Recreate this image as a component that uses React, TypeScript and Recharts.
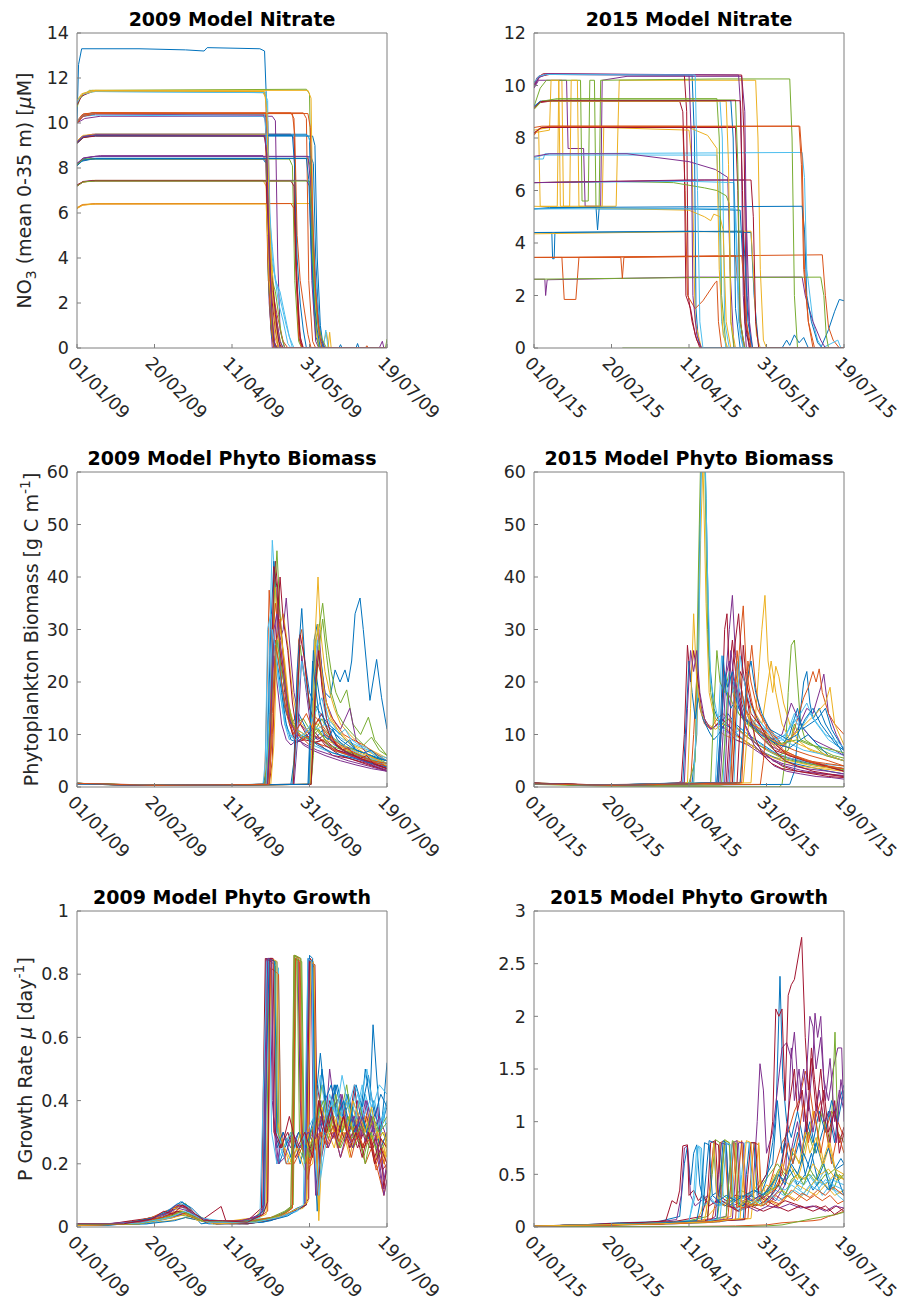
import React from "react";
import { LineChart, Line, XAxis, YAxis } from "recharts";

type Pt = [number, number];

// day-of-year axis shared by every panel
const DAY_TICKS = [0, 50, 100, 150, 200];
const DATES_2009 = ["01/01/09", "20/02/09", "11/04/09", "31/05/09", "19/07/09"];
const DATES_2015 = ["01/01/15", "20/02/15", "11/04/15", "31/05/15", "19/07/15"];

const NITRATE_TICKS_2009 = [0, 2, 4, 6, 8, 10, 12, 14];
const NITRATE_TICKS_2015 = [0, 2, 4, 6, 8, 10, 12];
const BIOMASS_TICKS = [0, 10, 20, 30, 40, 50, 60];
const GROWTH_TICKS_2009 = [0, 0.2, 0.4, 0.6, 0.8, 1];
const GROWTH_TICKS_2015 = [0, 0.5, 1, 1.5, 2, 2.5, 3];

// NO3 (mean 0-35 m), one trace per run
const NITRATE_2009: Pt[][] = [
  [[0, 10.1], [1, 12.6], [3, 13.3], [40, 13.3], [70, 13.25], [82, 13.2], [84, 13.35], [118, 13.3], [121, 13.2], [122, 11.4], [123, 6], [125, 1.5], [127, 0.2], [130, 0], [169, 0], [170, 0.15], [171, 0], [180, 0], [181, 0.2], [182, 0], [200, 0]],
  [[0, 10.1], [4, 10.4], [10, 10.45], [138, 10.45], [140, 10.2], [141.5, 4], [143, 1], [145, 0], [200, 0]],
  [[0, 6.25], [4, 6.38], [12, 6.42], [150, 6.42], [151.5, 6.1], [153, 3], [156, 0.5], [158, 0], [161, 0.7], [162.5, 0], [200, 0]],
  [[0, 10.0], [5, 10.2], [15, 10.3], [126, 10.3], [128, 10.1], [129.5, 4], [131, 0.8], [134, 0], [195, 0], [197, 0.3], [198, 0], [200, 0]],
  [[0, 10.7], [2, 11.1], [8, 11.45], [148, 11.5], [150, 11.3], [151.5, 5], [153, 1.5], [156, 0], [199, 0], [200, 0.4]],
  [[0, 9.2], [4, 9.4], [12, 9.45], [121, 9.4], [123, 9.0], [125, 4], [130, 2.5], [135, 1], [139, 0], [159, 0], [160.5, 0.8], [162, 0], [200, 0]],
  [[0, 10.8], [3, 11.2], [10, 11.4], [120, 11.4], [122, 11.2], [123.5, 4], [125, 1], [127, 0], [200, 0]],
  [[0, 8.2], [4, 8.4], [10, 8.5], [151, 8.5], [152.5, 8.2], [154, 4], [156.5, 0.5], [159, 0], [200, 0]],
  [[0, 10.0], [3, 10.35], [10, 10.45], [146, 10.45], [148, 10.2], [149.5, 3], [152, 0.3], [154, 0], [186, 0], [187, 0.1], [188, 0], [200, 0]],
  [[0, 11.0], [4, 11.3], [12, 11.45], [120, 11.35], [122, 11.1], [124, 3], [127, 0.3], [129, 0], [162, 0], [163, 0.7], [164, 0], [200, 0]],
  [[0, 8.2], [5, 8.45], [15, 8.55], [120, 8.55], [122, 8.3], [124, 2], [126, 0], [200, 0]],
  [[0, 8.1], [3, 8.35], [10, 8.4], [137, 8.4], [139, 8.1], [140.5, 3], [143, 0.3], [145, 0], [200, 0]],
  [[0, 10.9], [3, 11.25], [10, 11.4], [121, 11.35], [123, 11.0], [124, 5], [126, 2], [130, 0.5], [133, 0], [200, 0]],
  [[0, 9.2], [3, 9.4], [10, 9.5], [138, 9.5], [140, 9.3], [141.5, 3.5], [144, 0.5], [146, 0], [200, 0]],
  [[0, 9.1], [5, 9.4], [12, 9.5], [148, 9.5], [150, 9.3], [151.5, 4], [154, 0.5], [157, 0], [200, 0]],
  [[0, 6.2], [3, 6.35], [10, 6.4], [138, 6.42], [140, 6.2], [141.5, 3], [143, 0.5], [145, 0], [200, 0]],
  [[0, 7.2], [3, 7.35], [10, 7.45], [120, 7.45], [122, 7.2], [123.5, 3], [126, 0.5], [128, 0], [200, 0]],
  [[0, 7.2], [4, 7.4], [12, 7.45], [148, 7.45], [150, 7.2], [151.5, 3], [154, 0.3], [156, 0], [200, 0]],
  [[0, 9.1], [4, 9.35], [12, 9.45], [120, 9.45], [122, 9.2], [123.5, 3], [126, 0.5], [128, 0], [200, 0]],
  [[0, 10.1], [4, 10.3], [12, 10.35], [120, 10.3], [122, 10.1], [124, 5], [128, 1.5], [131, 0], [200, 0]],
  [[0, 7.25], [4, 7.4], [10, 7.42], [138, 7.42], [140, 7.2], [141.5, 3], [144, 0.3], [146, 0], [200, 0]],
  [[0, 8.1], [3, 8.3], [10, 8.4], [120, 8.4], [122, 8.2], [123.5, 3], [125.5, 0.5], [128, 0], [200, 0]],
  [[0, 10.0], [3, 10.3], [10, 10.45], [120, 10.4], [121.5, 10.2], [123, 4], [125, 1], [127, 0], [200, 0]],
  [[0, 9.2], [4, 9.45], [12, 9.5], [121, 9.5], [123, 9.2], [124, 6], [126, 3.5], [128, 1.5], [132, 0], [200, 0]],
  [[0, 8.1], [3, 8.35], [12, 8.42], [121, 8.4], [123, 8.1], [125, 3], [128, 1.2], [131, 0], [200, 0]],
  [[0, 8.15], [4, 8.38], [12, 8.42], [149, 8.42], [150.5, 8.1], [152, 4], [154, 1], [156, 0], [200, 0]],
  [[0, 9.15], [4, 9.4], [12, 9.45], [149, 9.45], [151, 9.0], [152.5, 5], [155, 2], [158, 0.3], [160, 0], [200, 0]],
  [[0, 10.05], [4, 10.35], [12, 10.42], [121, 10.4], [123, 10.1], [124.5, 3], [127, 0.3], [129, 0], [200, 0]],
  [[0, 9.1], [4, 9.38], [12, 9.42], [152, 9.42], [153.5, 9], [155, 4], [157, 1], [159, 0], [200, 0]],
  [[0, 10.05], [4, 10.4], [12, 10.45], [122, 10.4], [123.5, 9], [125, 3], [129, 1.5], [133, 0.3], [136, 0], [200, 0]],
  [[0, 11.0], [3, 11.3], [10, 11.45], [149, 11.45], [151, 11.1], [152.5, 4], [155, 0.5], [157, 0], [200, 0]],
  [[0, 10.0], [4, 10.3], [12, 10.4], [121, 10.35], [122.5, 9.5], [123.5, 5], [125, 3], [127, 2.2], [129, 1.2], [131, 0.3], [133, 0], [200, 0]],
  [[0, 8.15], [4, 8.38], [12, 8.42], [122, 8.4], [123, 7], [124, 4], [126, 3], [128, 2.5], [130, 1.5], [132, 0.5], [134, 0], [200, 0]],
  [[0, 11.0], [4, 11.3], [12, 11.4], [122, 11.35], [123, 10], [124.5, 6], [126, 4], [128, 3], [131, 2.5], [134, 1.5], [137, 0.5], [140, 0], [200, 0]],
  [[0, 7.2], [4, 7.38], [12, 7.44], [122, 7.44], [123, 6], [124, 4], [126, 3], [128, 1.5], [130, 0.3], [132, 0], [200, 0]],
  [[0, 9.15], [4, 9.38], [12, 9.44], [139, 9.44], [140.5, 8], [142, 4], [144, 2], [146, 0.8], [148, 0], [200, 0]],
  [[0, 10.0], [4, 10.3], [12, 10.42], [139, 10.42], [140.5, 9.5], [142, 5], [144, 3], [146, 2], [149, 0.6], [151, 0], [200, 0]],
  [[0, 6.2], [4, 6.35], [12, 6.4], [122, 6.4], [123, 5], [124, 3], [126, 1.5], [128, 0.4], [130, 0], [200, 0]],
  [[0, 8.2], [4, 8.45], [12, 8.52], [149, 8.52], [150.5, 7.5], [152, 5], [154, 2.5], [156, 1], [158, 0.3], [160, 0], [200, 0]],
  [[0, 7.2], [4, 7.38], [12, 7.42], [150, 7.42], [151.5, 6], [153, 3], [155, 1.2], [158, 0.4], [161, 0], [200, 0]],
  [[0, 10.05], [4, 10.35], [12, 10.42], [121, 10.4], [122.5, 9], [124, 6], [126, 4.5], [128, 3], [130, 2], [133, 1.2], [136, 0.2], [138, 0], [200, 0]],
  [[0, 9.1], [4, 9.35], [12, 9.42], [121, 9.42], [122.5, 8.5], [124, 5], [126, 2], [128, 0.8], [130, 0], [200, 0]],
  [[0, 8.1], [4, 8.35], [12, 8.42], [148, 8.42], [149.5, 7.5], [151, 4.5], [153, 2], [155, 0.8], [157, 0], [200, 0]],
  [[0, 10.0], [4, 10.35], [12, 10.42], [149, 10.42], [150.5, 9.8], [152, 6], [154, 2.5], [156, 0.8], [158, 0], [200, 0]],
  [[0, 11.0], [4, 11.3], [12, 11.42], [121, 11.4], [122.5, 10.5], [124, 6], [126, 2.5], [128, 1], [130, 0], [200, 0]],
  [[0, 9.15], [4, 9.4], [12, 9.48], [121, 9.45], [122.5, 8.6], [124, 4], [126, 1.2], [128, 0], [200, 0]],
];

const NITRATE_2015: Pt[][] = [
  [[0, 10.1], [3, 10.35], [8, 10.42], [102, 10.4], [103.5, 8], [104.5, 1.5], [106, 0.3], [108, 0], [160, 0], [163, 0.3], [165, 0.1], [168, 0.5], [171, 0.2], [174, 0.4], [177, 0], [185, 0], [190, 0.7], [194, 1.4], [197, 1.85], [200, 1.8]],
  [[0, 3.45], [18, 3.45], [19.5, 1.85], [27, 1.85], [29, 3.45], [100, 3.5], [186, 3.55], [188, 2], [190, 0.8], [193, 0.3], [197, 0], [200, 0]],
  [[0, 8.2], [3, 8.3], [4, 5.4], [15, 5.4], [16, 10.2], [18, 10.2], [19, 5.4], [53, 5.4], [54, 8.0], [55, 10.2], [143, 10.2], [144.5, 8], [146, 3], [148, 0.3], [150, 0], [200, 0]],
  [[0, 9.9], [3, 10.2], [21, 10.2], [22, 7.6], [32, 7.6], [33, 5.4], [43, 5.4], [44, 10.2], [60, 10.35], [134, 10.35], [136, 9], [137.5, 2], [140, 0], [200, 0]],
  [[0, 9.2], [4, 9.9], [8, 10.2], [30, 10.2], [31, 5.6], [35, 5.6], [36, 10.2], [39, 10.2], [40, 5.3], [42, 5.3], [43, 10.2], [120, 10.25], [165, 10.25], [166.5, 8], [168, 2], [170, 0], [200, 0]],
  [[0, 7.2], [6, 7.2], [7, 7.4], [173, 7.45], [174.5, 6.5], [176, 3], [180, 1], [183, 0.3], [186, 0], [196, 0.3], [198, 0], [200, 0]],
  [[0, 10.0], [2, 10.3], [6, 10.45], [97, 10.4], [98.5, 9], [99.5, 2], [102, 1], [105, 0.3], [108, 0], [200, 0]],
  [[0, 5.3], [40, 5.35], [41, 4.5], [42, 5.3], [100, 5.3], [133, 5.25], [135, 3], [137, 0.5], [140, 0], [200, 0]],
  [[0, 8.1], [3, 8.35], [10, 8.42], [171, 8.45], [172.5, 7], [174, 3], [177, 1], [180, 0], [200, 0]],
  [[0, 8.2], [10, 8.3], [11, 10.2], [16, 10.2], [17, 5.4], [23, 5.4], [24, 10.2], [28, 10.2], [29, 5.4], [44, 5.4], [45, 8.4], [100, 8.3], [102, 7], [104, 1], [108, 0], [200, 0]],
  [[0, 2.62], [7, 2.62], [7.5, 2.0], [8.5, 2.6], [100, 2.7], [173, 2.7], [175, 2], [180, 1], [185, 0.3], [188, 0], [200, 0]],
  [[0, 2.62], [100, 2.68], [185, 2.7], [187, 2], [188.5, 0.5], [190, 0], [200, 0]],
  [[0, 9.2], [4, 9.4], [120, 9.42], [121.5, 8], [123, 1], [126, 0], [200, 0]],
  [[0, 10.0], [4, 10.35], [10, 10.42], [134, 10.4], [135.5, 8], [137, 1], [139, 0], [200, 0]],
  [[0, 4.4], [11.5, 4.4], [12, 3.4], [13, 3.4], [13.5, 4.4], [100, 4.45], [140, 4.4], [142, 2], [145, 0], [200, 0]],
  [[0, 8.4], [5, 8.45], [96, 8.45], [97.5, 6], [99, 2], [104, 1.5], [109, 1.8], [117, 2.5], [118, 2.55], [119, 1], [121, 0], [200, 0]],
  [[0, 5.4], [60, 5.3], [100, 5.25], [110, 5.0], [114, 4.85], [116, 5.1], [120, 5.0], [122, 4.5], [124, 1], [127, 0], [200, 0]],
  [[0, 9.9], [3, 10.3], [8, 10.45], [132, 10.4], [133.5, 9], [135, 2], [137, 0], [200, 0]],
  [[0, 9.1], [5, 9.4], [15, 9.5], [118, 9.5], [119.5, 8], [121, 2], [124, 0], [200, 0]],
  [[0, 7.25], [6, 7.35], [100, 7.35], [118, 7.35], [119.5, 5], [121, 1], [124, 0], [200, 0]],
  [[0, 9.1], [4, 9.35], [10, 9.4], [94, 9.4], [96, 9.0], [97, 7], [98, 2], [101, 1.5], [104, 0.5], [107, 0], [200, 0]],
  [[0, 5.3], [10, 5.35], [173, 5.4], [174.5, 4.5], [176, 2], [179, 1], [183, 0.2], [186, 0], [200, 0]],
  [[0, 3.45], [56, 3.45], [57, 2.65], [58, 3.45], [130, 3.5], [132, 2], [135, 0], [200, 0]],
  [[0, 4.35], [60, 4.4], [140, 4.45], [141.5, 3], [143.5, 0.5], [146, 0], [200, 0]],
  [[0, 7.3], [10, 7.4], [60, 7.4], [100, 7.1], [117, 6.8], [125, 6.5], [126.5, 3], [129, 0], [200, 0]],
  [[0, 6.3], [50, 6.35], [90, 6.3], [110, 6.1], [118, 6.0], [124, 5.8], [126, 5.5], [127, 1], [129, 0], [200, 0]],
  [[0, 6.3], [100, 6.35], [129, 6.3], [130.5, 4], [132, 1], [135, 0], [200, 0]],
  [[0, 6.3], [50, 6.35], [100, 6.4], [140, 6.4], [141.5, 5], [143, 1], [145, 0], [200, 0]],
  [[0, 9.2], [4, 9.4], [127, 9.42], [128.5, 8], [130, 1.5], [133, 0], [200, 0]],
  [[0, 8.15], [4, 8.38], [10, 8.45], [171.5, 8.45], [173, 7.2], [174.5, 3], [177, 1], [181, 0], [200, 0]],
  [[0, 8.3], [10, 8.4], [100, 8.4], [112, 8.1], [118, 7.6], [119.5, 3], [122, 0.5], [125, 0], [200, 0]],
  [[0, 6.3], [60, 6.35], [110, 6.4], [136, 6.4], [137.5, 4], [139, 1], [141, 0], [200, 0]],
  [[57, 0], [200, 0]],
  [[0, 5.3], [100, 5.3], [130, 5.3], [131.5, 3], [133, 0.5], [135, 0], [200, 0]],
  [[0, 8.2], [5, 8.4], [130, 8.4], [131.5, 6], [133, 1], [136, 0], [200, 0]],
  [[0, 4.4], [135, 4.45], [136.5, 3], [138, 1], [141, 0], [200, 0]],
  [[0, 3.45], [134, 3.5], [135.5, 2.5], [137, 1], [140, 0], [200, 0]],
  [[0, 9.1], [5, 9.4], [124, 9.4], [125.5, 7], [127, 1], [130, 0], [200, 0]],
  [[0, 10.0], [3, 10.3], [8, 10.42], [100, 10.4], [101.5, 8], [102.5, 2], [105, 0.5], [108, 0], [200, 0]],
  [[0, 9.1], [5, 9.4], [15, 9.45], [130, 9.45], [131.5, 7], [133, 1], [136, 0], [200, 0]],
  [[0, 10.1], [3, 10.35], [8, 10.42], [104, 10.4], [105.5, 6], [107, 1], [109, 0], [200, 0]],
  [[0, 9.15], [4, 9.38], [12, 9.42], [133, 9.42], [134.5, 6], [136, 1], [139, 0], [200, 0]],
];

// phytoplankton biomass [g C m-1]
const BIOMASS_2009: Pt[][] = [
  [[0, 0.6], [50, 0.3], [150, 0.5], [151.5, 10], [153, 28], [155, 31], [157, 25], [160, 18], [163.2, 17], [166.5, 22.3], [169.7, 20], [172.9, 22.3], [175, 20], [177.2, 24], [179.4, 33], [182.6, 36], [184.7, 30], [189, 16.5], [193.3, 24.3], [196.5, 17], [200, 11]],
  [[0, 0.6], [40, 0.3], [121, 0.5], [122, 12], [124, 37.5], [126, 25], [128, 28], [131, 22], [134, 15], [138, 12], [143, 10], [150, 9], [158, 8], [168, 7], [180, 5.5], [190, 4.5], [200, 3.5]],
  [[0, 0.6], [50, 0.3], [150, 0.5], [151.5, 6], [153, 25], [155.5, 40], [157, 30], [160, 22], [163, 18], [166, 15], [170, 12], [176, 10], [183, 8], [190, 7], [200, 5.5]],
  [[0, 0.6], [50, 0.3], [122, 0.5], [124, 5], [126, 22], [129, 34], [131, 28], [133, 30], [135, 36], [137, 28], [140, 18], [144, 12], [150, 10], [158, 9], [168, 7], [180, 6], [190, 5], [200, 3.8]],
  [[0, 0.7], [50, 0.3], [150.5, 0.5], [152, 8], [154, 28], [156, 30], [158.5, 35], [161, 28], [164, 22], [167, 18], [170, 16], [174, 18.5], [178, 12], [183, 10], [188, 13.3], [192, 9], [200, 6]],
  [[0, 0.7], [30, 0.3], [80, 0.4], [120, 0.5], [122, 2], [124, 25], [126, 47], [128, 38], [131, 22], [134, 12], [137, 9], [142, 11], [147, 10], [152, 8], [158, 9], [165, 7], [175, 6], [185, 5], [195, 4], [200, 3.5]],
  [[0, 0.7], [60, 0.3], [121.5, 0.5], [123.5, 8], [126, 30], [128, 43], [130, 36], [133, 25], [136, 16], [139, 10], [144, 12], [150, 9], [157, 8], [165, 6], [175, 5.5], [187, 4.5], [200, 3]],
  [[0, 0.6], [40, 0.3], [120, 0.5], [122.5, 3], [125, 30], [127, 43], [129, 35], [132, 20], [135, 14], [138, 12], [143, 14], [148, 11], [153, 9], [159, 11], [166, 8], [175, 6.5], [185, 5], [193, 5], [200, 4]],
  [[0, 0.6], [50, 0.3], [139, 0.5], [141, 10], [143, 28], [145, 30], [148, 20], [151, 14], [155, 13], [160, 11], [168, 8], [178, 6.5], [190, 5], [200, 4]],
  [[0, 0.6], [50, 0.3], [123, 0.5], [125, 10], [128, 38], [130, 30], [133, 33], [136, 27], [139, 18], [142, 13], [148, 11], [155, 12], [162, 10], [172, 8], [182, 6.5], [192, 5.5], [200, 5]],
  [[0, 0.6], [50, 0.3], [122, 0.5], [124, 6], [127, 25], [129, 20], [132, 12], [135, 9], [138, 8], [142, 9], [148, 8], [155, 7], [165, 6], [175, 5], [188, 4], [200, 3]],
  [[0, 0.7], [50, 0.3], [123, 0.5], [125, 8], [127, 35], [129, 45], [131, 33], [134, 22], [137, 14], [140, 12], [146, 13], [152, 10], [158, 13], [163, 10], [170, 8], [180, 7], [190, 6], [200, 4.5]],
  [[0, 0.7], [30, 0.35], [120, 0.5], [121.5, 5], [123, 30], [125, 33], [127, 27], [130, 20], [133, 14], [136, 11], [140, 9], [146, 10], [152, 8], [160, 7], [170, 6], [180, 5.5], [190, 5], [200, 4.2]],
  [[0, 0.6], [60, 0.3], [124, 0.5], [126, 5], [128, 25], [131, 40], [133, 32], [136, 26], [139, 16], [142, 10], [146, 9], [152, 11], [160, 8], [170, 6], [180, 5], [190, 4], [200, 3.2]],
  [[0, 0.6], [50, 0.3], [138, 0.5], [140, 5], [142, 22], [145, 34], [147, 24], [150, 18], [153, 16], [157, 14], [162, 12], [170, 10], [180, 7], [190, 6], [200, 5]],
  [[0, 0.6], [50, 0.3], [124, 0.5], [126, 10], [129, 28], [131, 32], [133, 25], [136, 17], [139, 12], [143, 10], [150, 8], [158, 9], [166, 7], [176, 6], [188, 5], [200, 4]],
  [[0, 0.6], [50, 0.3], [150, 0.5], [152, 9], [154, 22], [156, 27], [158, 20], [161, 14], [165, 12], [171, 10], [178, 8], [186, 7], [193, 6], [200, 5]],
  [[0, 0.6], [50, 0.3], [151, 0.5], [152.5, 10], [154.5, 24], [156, 30], [158, 22], [161, 16], [165, 13], [170, 11], [176, 15], [180, 9], [188, 6], [195, 5], [200, 3.5]],
  [[0, 0.7], [50, 0.3], [139, 0.5], [141, 8], [144, 27], [146, 22], [149, 18], [152, 12], [157, 10], [163, 9], [172, 7], [182, 6], [192, 5], [200, 4.5]],
  [[0, 0.7], [40, 0.35], [150, 0.5], [151.5, 8], [153.5, 24], [155, 28], [157, 22], [160, 16], [163, 12], [167, 10], [172, 9], [180, 8], [188, 7], [195, 6], [200, 5.5]],
  [[0, 0.6], [60, 0.3], [123, 0.5], [125, 15], [127, 42], [129, 38], [131, 26], [134, 18], [137, 12], [141, 8.5], [147, 9], [153, 8.5], [160, 9], [168, 7], [178, 6], [190, 4.5], [200, 3.5]],
  [[0, 0.7], [40, 0.3], [122, 0.5], [123.5, 10], [125, 20], [127, 28], [129, 24], [132, 18], [135, 12], [138, 9], [142, 8.5], [148, 10], [155, 8], [165, 6.5], [178, 5.5], [190, 4.5], [200, 3.8]],
  [[0, 0.6], [50, 0.3], [122, 0.5], [124, 10], [126, 28], [128, 35], [130, 30], [133, 22], [136, 14], [140, 11], [145, 9], [152, 10], [158, 9], [166, 7], [176, 6], [188, 5], [200, 4]],
  [[0, 0.6], [40, 0.3], [125, 0.5], [127, 8], [129, 26], [131, 30], [134, 24], [137, 15], [141, 11], [147, 10], [153, 12], [160, 9], [168, 8], [178, 6.5], [190, 5.5], [200, 4.5]],
  [[0, 0.6], [50, 0.3], [140, 0.5], [142, 8], [145, 25], [148, 18], [151, 11], [155, 9], [160, 10], [167, 8], [176, 6], [188, 4.5], [200, 3.2]],
  [[0, 0.7], [40, 0.3], [121, 0.5], [123, 6], [126, 17], [129, 28], [132, 22], [135, 18], [139, 12], [144, 10], [150, 9], [156, 11], [162, 8], [172, 7], [182, 6], [192, 5], [200, 4.5]],
  [[0, 0.7], [40, 0.3], [139, 0.5], [141, 6], [143, 18], [145, 24], [148, 19], [151, 13], [155, 11], [160, 12], [166, 9], [174, 7.5], [184, 6], [194, 5], [200, 4.5]],
  [[0, 0.6], [60, 0.3], [139.5, 0.5], [141.5, 12], [144, 29], [147, 24], [150, 15], [154, 12], [158, 14], [164, 9], [172, 7], [182, 5.5], [192, 4.5], [200, 3.5]],
  [[0, 0.6], [50, 0.3], [149.5, 0.5], [151, 15], [152.5, 26], [154, 22], [157, 16], [160, 12], [164, 11], [170, 9], [177, 7.5], [185, 6.5], [193, 5.5], [200, 5]],
  [[0, 0.6], [50, 0.3], [151, 0.5], [152.5, 8], [155, 24], [157, 22], [160, 17], [163, 14], [167, 12], [172, 10], [178, 9], [185, 8], [192, 6.5], [200, 5]],
  [[0, 0.6], [60, 0.3], [150.5, 0.5], [152, 12], [154, 27], [155.5, 31], [157, 24], [160, 17], [164, 13], [168, 11], [173, 9], [180, 7.5], [188, 6], [195, 5], [200, 4]],
  [[0, 0.6], [50, 0.3], [123, 0.5], [125, 12], [127, 30], [129, 33], [131, 28], [134, 20], [137, 13], [141, 10], [146, 8], [152, 7], [160, 6], [170, 5], [180, 4.2], [190, 3.5], [200, 3]],
  [[0, 0.7], [45, 0.3], [151, 0.5], [152.5, 6], [154.5, 20], [156, 26], [158.5, 32], [161, 25], [164, 18], [168, 14], [172, 12], [178, 10], [185, 8], [190, 9.5], [195, 7], [200, 6]],
  [[0, 0.6], [50, 0.3], [122, 0.5], [124, 14], [126, 30], [128, 26], [131, 18], [134, 12], [137, 10], [141, 9], [146, 10], [151, 12], [155, 15], [158, 17], [161, 13], [165, 12], [169, 10], [173, 11], [177, 9], [182, 8], [187, 7.5], [192, 6], [197, 5.5], [200, 5]],
  [[0, 0.7], [40, 0.3], [151, 0.5], [152.5, 9], [154, 20], [156, 26], [158, 19], [161, 13], [164, 10], [167, 8], [171, 7], [175, 7.5], [179, 6], [183, 5.5], [187, 6], [191, 4.5], [195, 4], [200, 3.5]],
  [[0, 0.6], [50, 0.3], [149, 0.5], [150.5, 12], [152, 24], [153.5, 20], [156, 14], [159, 10], [162, 9], [165, 11], [168, 9], [172, 8], [176, 9], [180, 7], [185, 6.5], [190, 7], [195, 5.5], [200, 5]],
  [[0, 0.7], [50, 0.3], [124, 0.5], [126, 14], [128, 27], [130, 24], [133, 18], [136, 13], [140, 10], [144, 12], [148, 14], [152, 11], [156, 13], [160, 10], [165, 9], [170, 8], [176, 7], [183, 6], [190, 5], [200, 4.5]],
];

const BIOMASS_2015: Pt[][] = [
  [[0, 0.7], [40, 0.3], [102, 0.8], [105, 10], [107, 50], [109, 75], [111, 55], [113, 25], [116, 15], [120, 12], [125, 14], [130, 12], [138, 10], [148, 8], [158, 6], [170, 5], [185, 4], [200, 3.5]],
  [[0, 0.7], [50, 0.3], [101, 0.8], [103, 10], [105, 21], [107, 15], [110, 12], [114, 11], [118, 13], [122, 14], [128, 12], [135, 10], [145, 8], [158, 6], [172, 5], [188, 4], [200, 3.5]],
  [[0, 0.7], [50, 0.3], [103, 0.8], [105.5, 15], [107.5, 47], [109, 62], [111, 35], [113, 18], [117, 12], [122, 10], [130, 9], [140, 8], [150, 6], [165, 5], [180, 4], [200, 3.2]],
  [[0, 0.7], [50, 0.3], [120, 0.8], [122, 10], [124, 22], [126, 30], [128, 36.5], [130, 25], [133, 20], [136, 15], [140, 12], [146, 11], [152, 8], [158, 7], [165, 9], [170, 11], [176, 15], [180, 14], [185, 19], [187, 21.5], [190, 14], [195, 10], [200, 7]],
  [[0, 0.8], [40, 0.3], [100, 0.8], [104, 5], [106, 40], [108, 70], [110, 65], [112, 30], [114, 18], [117, 13], [121, 12], [126, 13], [132, 11], [140, 9], [150, 7], [160, 5.5], [175, 4.5], [190, 3.8], [200, 3.3]],
  [[0, 0.6], [40, 0.3], [103, 0.8], [106, 20], [108, 65], [110, 70], [112, 40], [114, 20], [118, 14], [122, 11], [127, 10], [134, 11], [142, 9], [152, 7], [165, 5.5], [180, 4.5], [200, 4]],
  [[0, 0.8], [30, 0.4], [90, 0.6], [95, 1], [97, 10], [99, 27], [101, 20], [103, 26], [105, 22], [108, 15], [111, 12], [115, 11], [118, 12], [121, 13], [125, 12], [130, 10], [140, 8], [150, 6], [160, 4], [170, 3], [185, 2.5], [200, 2]],
  [[0, 0.7], [40, 0.3], [96, 0.8], [98, 12], [100, 24], [102, 18], [104, 13], [106, 17], [109, 13], [113, 10.5], [116, 9], [119, 10], [123, 12], [128, 11], [135, 9], [145, 7], [160, 5], [175, 4], [190, 3], [200, 2.5]],
  [[0, 0.7], [50, 0.3], [126, 0.8], [128, 8], [131, 20], [133, 28], [135, 34.5], [137, 22], [140, 17], [143, 13], [148, 11], [154, 9], [160, 7], [168, 6], [178, 5], [190, 4], [200, 3.5]],
  [[0, 0.7], [50, 0.3], [99, 0.8], [101, 15], [103, 33], [105, 20], [108, 14], [112, 12], [117, 11], [122, 12], [128, 10], [135, 9], [145, 7], [155, 5.5], [170, 4], [185, 3.5], [200, 3]],
  [[0, 0.7], [50, 0.3], [97, 0.8], [99, 15], [101, 26], [103, 22], [105, 26], [107, 18], [110, 13], [114, 11], [119, 12], [124, 11], [130, 9], [138, 8], [148, 6], [160, 4.5], [175, 3.5], [190, 3], [200, 2.5]],
  [[0, 0.6], [50, 0.2], [158, 0], [160, 0.5], [162, 5], [164, 18], [166, 27], [168, 28], [170, 20], [172, 12], [175, 9], [180, 8], [186, 7], [193, 6], [200, 5.5]],
  [[0, 0.6], [50, 0.3], [117, 0.8], [119, 12], [121, 25], [123, 19], [126, 16], [129, 20], [132, 17], [135, 14], [139, 12], [144, 13], [150, 11], [156, 9], [163, 10], [168, 14], [172, 12], [177, 10], [183, 8], [190, 7], [200, 6]],
  [[0, 0.7], [60, 0.3], [119, 0.8], [121, 12], [123, 30], [124.5, 33], [126, 22], [128, 28], [130, 22], [133, 17], [137, 13], [142, 11], [148, 9], [155, 7], [165, 6], [175, 5], [188, 4], [200, 3]],
  [[0, 0.7], [50, 0.3], [165, 0.5], [168, 3], [171, 12], [174, 20], [176, 22], [178, 16], [180, 13], [184, 15], [188, 12], [192, 10], [196, 8], [200, 6]],
  [[0, 0.6], [50, 0.3], [146, 0.5], [148, 5], [150, 12], [154, 10], [160, 8], [166, 9], [170, 13], [174, 17], [177, 19], [180, 22], [182, 20], [184, 22.5], [186, 18], [190, 14], [194, 12], [200, 10]],
  [[0, 0.6], [50, 0.3], [140, 0.8], [142, 10], [145, 22], [147, 30], [149, 36.5], [151, 24], [154, 18], [156, 23], [158, 21], [161, 16], [165, 12], [170, 9], [178, 7], [188, 6], [200, 5]],
  [[0, 0.6], [50, 0.3], [118, 0.8], [120, 9], [123, 20], [126, 24], [129, 18], [132, 15], [136, 13], [141, 12], [147, 10], [154, 9], [160, 10], [166, 16], [169, 14], [174, 11], [180, 9], [187, 8], [194, 7], [200, 6]],
  [[0, 0.6], [50, 0.3], [114, 0.8], [116, 15], [118, 26], [120, 20], [123, 18], [126, 22], [129, 17], [132, 14], [136, 13], [141, 11], [146, 10], [152, 8], [158, 6], [164, 7], [168, 12], [172, 9], [180, 8], [188, 6], [200, 5]],
  [[0, 0.6], [50, 0.3], [122, 0.8], [124, 15], [126, 22], [128, 18], [131, 20], [134, 17], [137, 13], [142, 12], [148, 10], [154, 8.5], [160, 9], [167, 8], [174, 7], [182, 6.5], [190, 6], [200, 5]],
  [[0, 0.7], [60, 0.3], [124, 0.8], [126, 10], [128, 22], [130, 28], [132, 33], [134, 24], [137, 18], [140, 14], [145, 12], [150, 10], [156, 8], [164, 6], [175, 5], [188, 4], [200, 3]],
  [[0, 0.6], [50, 0.3], [118, 0.8], [120, 10], [122, 25], [124, 18], [127, 15], [131, 17], [134, 14], [138, 12], [143, 11], [149, 10], [155, 9], [160, 8], [165, 10], [170, 15], [173, 11], [178, 12], [183, 13], [188, 15], [192, 11], [196, 9], [200, 7]],
  [[0, 0.6], [50, 0.3], [133, 0.8], [135, 8], [138, 20], [140.5, 27], [143, 19], [146, 14], [150, 12], [155, 10], [160, 8], [168, 7], [178, 6], [190, 5], [200, 4]],
  [[0, 0.6], [50, 0.3], [128, 0.8], [130, 15], [132, 24], [134, 18], [137, 14], [141, 12], [147, 11], [153, 9], [160, 8], [168, 10], [175, 12], [182, 14], [188, 16], [191, 19], [194, 12], [200, 8]],
  [[0, 0.6], [50, 0.3], [125, 0.8], [127, 10], [130, 20], [133, 16], [137, 11], [142, 8], [148, 6], [155, 4], [163, 3], [172, 2.5], [182, 2], [192, 1.8], [200, 1.5]],
  [[0, 0.7], [50, 0.3], [121, 0.8], [123, 8], [125, 18], [128, 16], [132, 14], [137, 12], [143, 11], [149, 10], [155, 8], [162, 8.5], [170, 9], [178, 8], [186, 7.5], [194, 7], [200, 6.5]],
  [[0, 0.6], [50, 0.3], [126, 0.8], [128, 12], [131, 24], [134, 18], [138, 14], [143, 12], [149, 11], [155, 10], [161, 9], [168, 13], [172, 11], [178, 14], [183, 12], [188, 10], [194, 9], [200, 7.5]],
  [[0, 0.6], [50, 0.3], [128, 0.8], [130, 12], [133, 22], [136, 20], [139, 14], [143, 9], [148, 6], [153, 4.5], [160, 3.5], [170, 3], [180, 2.5], [190, 2], [200, 1.8]],
  [[0, 0.6], [50, 0.3], [119, 0.8], [121, 12], [123, 22], [125, 19], [128, 22], [131, 16], [135, 13], [140, 12], [146, 10], [152, 9], [158, 8], [165, 7.5], [172, 9], [177, 10], [183, 8], [190, 6], [200, 5]],
  [[0, 0.6], [50, 0.3], [127, 0.8], [129, 15], [131, 26], [133, 20], [136, 15], [140, 13], [145, 11], [151, 9], [158, 7], [166, 6], [176, 5], [188, 4.5], [200, 4]],
  [[0, 0.6], [50, 0.3], [135, 0.8], [137, 8], [140, 16], [143, 14], [147, 12], [150, 18], [153, 24], [156, 18], [160, 12], [165, 9], [172, 8], [180, 7], [190, 6], [200, 5]],
  [[0, 0.7], [50, 0.3], [123, 0.8], [125, 14], [127, 26], [129, 21], [132, 16], [136, 12], [141, 9], [147, 7], [154, 5], [162, 4], [172, 3.2], [184, 2.6], [200, 2.2]],
  [[0, 0.5], [40, 0.2], [120, 0.2], [125, 0], [200, 0]],
  [[0, 0.6], [50, 0.3], [129, 0.8], [131, 14], [133, 25], [135, 21], [138, 17], [142, 14], [147, 12], [152, 10], [157, 9], [162, 10], [167, 12], [172, 14], [176, 16], [180, 13], [185, 11], [190, 9], [195, 8], [200, 7]],
  [[0, 0.7], [50, 0.3], [131, 0.8], [133, 12], [135, 27], [137, 20], [140, 16], [144, 13], [149, 10], [155, 7], [162, 5], [170, 4], [180, 3], [190, 2.5], [200, 2]],
  [[0, 0.6], [50, 0.3], [133, 0.8], [135, 10], [137, 20], [140, 24], [143, 18], [147, 14], [152, 11], [158, 10], [164, 9], [170, 10], [175, 13], [180, 15], [185, 12], [190, 10], [195, 8], [200, 7]],
  [[0, 0.6], [50, 0.3], [134, 0.8], [136, 12], [138, 24], [140, 20], [144, 15], [149, 12], [155, 9], [161, 7], [168, 6], [176, 5], [186, 4], [200, 3.5]],
];

// phytoplankton growth rate [day-1]
const GROWTH_2009: Pt[][] = [
  [[0, 0.005], [20, 0.005], [40, 0.015], [55, 0.03], [63, 0.06], [68, 0.08], [73, 0.05], [80, 0.01], [95, 0.02], [110, 0.015], [120, 0.04], [122, 0.85], [129, 0.84], [130.5, 0.2], [134, 0.25], [139, 0.3], [144, 0.2], [149, 0.3], [154, 0.25], [158, 0.5], [162, 0.35], [166, 0.45], [170, 0.3], [174, 0.42], [178, 0.35], [182, 0.3], [186, 0.5], [189, 0.4], [191, 0.64], [193, 0.5], [196, 0.3], [198, 0.4], [200, 0.52]],
  [[0, 0.005], [30, 0.01], [50, 0.02], [60, 0.04], [66, 0.05], [75, 0.03], [90, 0.01], [110, 0.01], [122, 0.02], [130, 0.03], [136, 0.05], [139, 0.06], [140, 0.86], [143, 0.85], [144.5, 0.3], [148, 0.2], [152, 0.25], [156, 0.4], [160, 0.3], [164, 0.35], [168, 0.3], [172, 0.4], [176, 0.3], [180, 0.35], [184, 0.3], [188, 0.38], [192, 0.3], [196, 0.25], [200, 0.3]],
  [[0, 0.01], [20, 0.008], [40, 0.02], [55, 0.04], [62, 0.06], [67, 0.075], [72, 0.05], [80, 0.02], [100, 0.02], [115, 0.03], [121, 0.07], [123, 0.85], [127, 0.83], [128.5, 0.35], [132, 0.28], [137, 0.2], [142, 0.25], [147, 0.18], [152, 0.2], [156, 0.35], [160, 0.28], [164, 0.33], [168, 0.25], [172, 0.3], [176, 0.22], [180, 0.32], [184, 0.25], [188, 0.3], [192, 0.2], [196, 0.28], [200, 0.22]],
  [[0, 0.01], [20, 0.01], [40, 0.02], [52, 0.035], [60, 0.045], [66, 0.07], [72, 0.065], [78, 0.03], [90, 0.015], [108, 0.02], [118, 0.04], [120, 0.07], [122.5, 0.85], [124.5, 0.84], [126, 0.4], [129, 0.2], [133, 0.3], [138, 0.25], [143, 0.3], [148, 0.22], [153, 0.28], [157, 0.4], [161, 0.3], [165, 0.42], [169, 0.3], [173, 0.37], [177, 0.27], [181, 0.4], [185, 0.3], [189, 0.35], [193, 0.25], [197, 0.12], [200, 0.18]],
  [[0, 0.01], [25, 0.01], [45, 0.025], [56, 0.04], [64, 0.06], [70, 0.075], [76, 0.04], [85, 0.02], [100, 0.015], [115, 0.025], [122, 0.06], [124, 0.85], [128, 0.84], [129.5, 0.3], [133, 0.25], [138, 0.3], [143, 0.25], [148, 0.2], [153, 0.3], [157, 0.38], [161, 0.3], [165, 0.36], [169, 0.25], [173, 0.34], [177, 0.28], [181, 0.3], [185, 0.22], [189, 0.3], [193, 0.25], [197, 0.3], [200, 0.27]],
  [[0, 0.008], [25, 0.008], [45, 0.02], [58, 0.04], [66, 0.07], [74, 0.04], [85, 0.015], [105, 0.02], [118, 0.03], [121, 0.05], [123.5, 0.85], [130, 0.82], [131.5, 0.25], [135, 0.2], [140, 0.25], [145, 0.3], [150, 0.22], [154, 0.3], [158, 0.4], [162, 0.32], [166, 0.4], [170, 0.35], [174, 0.3], [178, 0.38], [182, 0.32], [186, 0.42], [190, 0.35], [194, 0.3], [198, 0.36], [200, 0.3]],
  [[0, 0.01], [15, 0.005], [35, 0.02], [50, 0.03], [60, 0.05], [66, 0.07], [72, 0.06], [80, 0.02], [93, 0.065], [96, 0.02], [110, 0.02], [119, 0.06], [121.5, 0.85], [125.5, 0.84], [127, 0.3], [131, 0.25], [136, 0.3], [141, 0.22], [146, 0.28], [151, 0.25], [155, 0.45], [159, 0.32], [163, 0.4], [167, 0.27], [171, 0.38], [175, 0.3], [179, 0.45], [183, 0.28], [187, 0.35], [191, 0.25], [195, 0.32], [198, 0.12], [200, 0.2]],
  [[0, 0.005], [40, 0.01], [60, 0.03], [70, 0.04], [85, 0.01], [110, 0.01], [125, 0.02], [135, 0.04], [142, 0.06], [147, 0.07], [149, 0.85], [152, 0.84], [153.5, 0.2], [155, 0.05], [157, 0.3], [160, 0.4], [163, 0.33], [167, 0.45], [171, 0.35], [175, 0.42], [179, 0.3], [183, 0.38], [187, 0.3], [191, 0.4], [195, 0.3], [200, 0.38]],
  [[0, 0.005], [30, 0.01], [55, 0.03], [63, 0.05], [70, 0.04], [80, 0.02], [100, 0.01], [120, 0.02], [132, 0.04], [138, 0.06], [140.5, 0.86], [144, 0.85], [145.5, 0.25], [149, 0.15], [153, 0.28], [157, 0.3], [161, 0.25], [165, 0.3], [169, 0.25], [173, 0.3], [177, 0.22], [181, 0.3], [185, 0.25], [189, 0.3], [193, 0.2], [197, 0.25], [200, 0.2]],
  [[0, 0.005], [40, 0.01], [60, 0.02], [70, 0.03], [90, 0.01], [115, 0.015], [130, 0.03], [140, 0.05], [146, 0.06], [149, 0.08], [150, 0.85], [152.5, 0.84], [154, 0.3], [156, 0.02], [158, 0.25], [162, 0.35], [166, 0.3], [170, 0.4], [174, 0.32], [178, 0.38], [182, 0.3], [186, 0.35], [190, 0.28], [194, 0.3], [198, 0.2], [200, 0.25]],
  [[0, 0.005], [35, 0.015], [55, 0.035], [65, 0.06], [72, 0.05], [82, 0.02], [105, 0.01], [125, 0.025], [135, 0.05], [139, 0.07], [141, 0.85], [142.5, 0.84], [144, 0.4], [147, 0.2], [151, 0.3], [155, 0.35], [159, 0.3], [163, 0.38], [167, 0.3], [171, 0.42], [175, 0.3], [179, 0.35], [183, 0.28], [187, 0.4], [191, 0.3], [195, 0.35], [200, 0.28]],
  [[0, 0.008], [35, 0.01], [55, 0.03], [65, 0.04], [75, 0.03], [90, 0.015], [110, 0.02], [125, 0.03], [134, 0.05], [139.5, 0.07], [141.5, 0.85], [145, 0.84], [146.5, 0.3], [150, 0.25], [154, 0.3], [158, 0.45], [162, 0.35], [166, 0.4], [170, 0.35], [174, 0.45], [178, 0.3], [182, 0.4], [186, 0.3], [190, 0.35], [194, 0.3], [200, 0.35]],
  [[0, 0.01], [45, 0.01], [62, 0.03], [72, 0.05], [88, 0.01], [118, 0.02], [132, 0.03], [142, 0.05], [147, 0.07], [150.5, 0.84], [153, 0.83], [154.5, 0.3], [157, 0.15], [160, 0.25], [164, 0.35], [168, 0.3], [172, 0.4], [176, 0.3], [180, 0.35], [184, 0.45], [188, 0.35], [192, 0.4], [196, 0.3], [200, 0.4]],
  [[0, 0.005], [40, 0.012], [62, 0.03], [72, 0.05], [86, 0.015], [110, 0.01], [128, 0.025], [140, 0.05], [146, 0.065], [149.5, 0.09], [150.5, 0.85], [153, 0.82], [154, 0.4], [155.5, 0.1], [158, 0.3], [161, 0.35], [165, 0.28], [169, 0.33], [173, 0.27], [177, 0.32], [181, 0.25], [185, 0.3], [189, 0.25], [193, 0.28], [197, 0.18], [200, 0.2]],
  [[0, 0.005], [45, 0.01], [63, 0.02], [70, 0.03], [90, 0.01], [120, 0.015], [136, 0.035], [144, 0.06], [148, 0.07], [150, 0.86], [152, 0.85], [153.5, 0.35], [156, 0.25], [160, 0.3], [164, 0.4], [168, 0.45], [172, 0.35], [176, 0.4], [180, 0.3], [184, 0.35], [188, 0.28], [192, 0.32], [196, 0.25], [200, 0.3]],
  [[0, 0.01], [30, 0.01], [48, 0.03], [57, 0.05], [65, 0.065], [70, 0.06], [77, 0.03], [88, 0.02], [104, 0.02], [117, 0.03], [123, 0.05], [125, 0.82], [130, 0.8], [131.5, 0.3], [135, 0.2], [140, 0.2], [145, 0.25], [150, 0.2], [154, 0.25], [158, 0.3], [162, 0.25], [166, 0.3], [170, 0.22], [174, 0.28], [178, 0.25], [182, 0.3], [186, 0.2], [190, 0.25], [194, 0.18], [198, 0.1], [200, 0.15]],
  [[0, 0.005], [30, 0.01], [50, 0.025], [62, 0.06], [68, 0.05], [78, 0.02], [95, 0.015], [112, 0.02], [122, 0.04], [125.5, 0.85], [129, 0.84], [130.5, 0.3], [134, 0.25], [139, 0.2], [144, 0.3], [149, 0.25], [154, 0.3], [158, 0.38], [162, 0.3], [166, 0.35], [170, 0.28], [174, 0.4], [178, 0.3], [182, 0.35], [186, 0.27], [190, 0.33], [194, 0.3], [198, 0.22], [200, 0.3]],
  [[0, 0.008], [40, 0.01], [60, 0.03], [70, 0.045], [85, 0.015], [112, 0.015], [128, 0.03], [140, 0.05], [147, 0.07], [149.5, 0.85], [151, 0.84], [152.5, 0.3], [154, 0.1], [157, 0.35], [160, 0.3], [163, 0.5], [166, 0.38], [170, 0.42], [174, 0.3], [178, 0.35], [182, 0.28], [186, 0.4], [190, 0.3], [194, 0.38], [198, 0.15], [200, 0.2]],
  [[0, 0.005], [35, 0.012], [55, 0.03], [66, 0.05], [74, 0.04], [86, 0.015], [110, 0.015], [128, 0.03], [136, 0.05], [139, 0.065], [140.5, 0.86], [144.5, 0.85], [146, 0.3], [150, 0.22], [154, 0.3], [158, 0.35], [162, 0.28], [166, 0.33], [170, 0.25], [174, 0.3], [178, 0.25], [182, 0.28], [186, 0.2], [190, 0.3], [194, 0.22], [200, 0.28]],
  [[0, 0.01], [25, 0.01], [45, 0.02], [58, 0.05], [65, 0.075], [70, 0.07], [78, 0.03], [92, 0.02], [108, 0.015], [118, 0.03], [122.5, 0.84], [124, 0.83], [125.5, 0.3], [129, 0.2], [133, 0.25], [138, 0.3], [143, 0.25], [148, 0.3], [153, 0.35], [157, 0.48], [161, 0.35], [165, 0.4], [169, 0.32], [173, 0.4], [177, 0.35], [181, 0.42], [185, 0.35], [189, 0.4], [193, 0.3], [197, 0.35], [200, 0.4]],
  [[0, 0.005], [30, 0.01], [55, 0.03], [65, 0.05], [75, 0.03], [90, 0.01], [115, 0.015], [130, 0.03], [142, 0.055], [148, 0.07], [150, 0.84], [153.5, 0.83], [155, 0.3], [157, 0.2], [160, 0.28], [164, 0.35], [168, 0.3], [172, 0.35], [176, 0.28], [180, 0.32], [184, 0.25], [188, 0.3], [192, 0.22], [196, 0.28], [200, 0.25]],
  [[0, 0.008], [30, 0.01], [50, 0.03], [60, 0.055], [67, 0.08], [74, 0.06], [82, 0.02], [96, 0.015], [112, 0.02], [120, 0.05], [124, 0.85], [127.5, 0.84], [129, 0.25], [133, 0.3], [138, 0.22], [143, 0.3], [148, 0.25], [153, 0.35], [157, 0.55], [160, 0.4], [164, 0.45], [168, 0.35], [172, 0.4], [176, 0.32], [180, 0.45], [184, 0.38], [188, 0.48], [192, 0.35], [196, 0.42], [200, 0.38]],
  [[0, 0.005], [35, 0.01], [55, 0.03], [65, 0.045], [72, 0.04], [84, 0.015], [108, 0.015], [125, 0.03], [135, 0.045], [139, 0.06], [141, 0.85], [143.5, 0.84], [145, 0.25], [149, 0.2], [153, 0.25], [157, 0.3], [161, 0.26], [165, 0.32], [169, 0.27], [173, 0.33], [177, 0.27], [181, 0.3], [185, 0.25], [189, 0.28], [193, 0.18], [197, 0.22], [200, 0.18]],
  [[0, 0.005], [40, 0.01], [62, 0.03], [70, 0.04], [88, 0.01], [115, 0.015], [132, 0.035], [143, 0.06], [148, 0.075], [151, 0.84], [153, 0.83], [154.5, 0.3], [156, 0.05], [158, 0.28], [162, 0.3], [166, 0.25], [170, 0.35], [174, 0.3], [178, 0.4], [182, 0.35], [186, 0.3], [190, 0.38], [194, 0.28], [198, 0.3], [200, 0.25]],
  [[0, 0.01], [25, 0.01], [45, 0.02], [58, 0.045], [64, 0.07], [70, 0.06], [78, 0.03], [90, 0.015], [106, 0.02], [118, 0.035], [121, 0.07], [123, 0.85], [125.5, 0.85], [127, 0.35], [130, 0.2], [134, 0.22], [139, 0.3], [144, 0.25], [149, 0.3], [154, 0.28], [158, 0.35], [162, 0.25], [166, 0.3], [170, 0.22], [174, 0.3], [178, 0.25], [182, 0.35], [186, 0.27], [190, 0.35], [194, 0.25], [198, 0.1], [200, 0.15]],
  [[0, 0.008], [40, 0.01], [58, 0.03], [68, 0.05], [80, 0.02], [100, 0.015], [120, 0.02], [132, 0.04], [138, 0.06], [140, 0.86], [142, 0.85], [143.5, 0.3], [147, 0.2], [151, 0.3], [155, 0.35], [159, 0.4], [163, 0.3], [167, 0.42], [171, 0.3], [175, 0.35], [179, 0.28], [183, 0.32], [187, 0.28], [191, 0.35], [195, 0.3], [200, 0.33]],
  [[0, 0.01], [40, 0.012], [60, 0.03], [70, 0.05], [85, 0.015], [115, 0.015], [130, 0.03], [141, 0.05], [146, 0.07], [149, 0.85], [151.5, 0.84], [153, 0.25], [156, 0.1], [159, 0.3], [163, 0.42], [167, 0.35], [171, 0.48], [175, 0.38], [179, 0.45], [183, 0.4], [187, 0.5], [191, 0.38], [195, 0.45], [200, 0.42]],
  [[0, 0.01], [30, 0.01], [48, 0.025], [56, 0.05], [62, 0.04], [68, 0.07], [74, 0.05], [82, 0.02], [94, 0.02], [110, 0.015], [120, 0.04], [123, 0.08], [124.5, 0.85], [126.5, 0.85], [128, 0.3], [132, 0.25], [137, 0.35], [142, 0.25], [147, 0.3], [152, 0.22], [156, 0.4], [160, 0.3], [164, 0.38], [168, 0.28], [172, 0.35], [176, 0.25], [180, 0.3], [184, 0.22], [188, 0.3], [192, 0.2], [196, 0.25], [200, 0.2]],
];

const GROWTH_2015: Pt[][] = [
  [[0, 0.01], [30, 0.02], [55, 0.04], [80, 0.05], [94, 0.1], [97, 0.6], [99, 0.77], [101, 0.4], [103, 0.7], [105, 0.78], [107, 0.4], [110, 0.2], [115, 0.3], [120, 0.35], [123, 0.8], [126, 0.78], [128, 0.3], [132, 0.25], [138, 0.3], [144, 0.35], [150, 0.5], [154, 0.6], [156, 1.0], [158.7, 2.38], [160.5, 1.4], [163, 1.0], [166, 0.85], [170, 1.1], [174, 0.8], [178, 1.0], [182, 0.7], [186, 0.9], [190, 1.1], [194, 0.8], [197, 1.2], [200, 1.35]],
  [[0, 0.01], [40, 0.02], [70, 0.03], [100, 0.05], [115, 0.08], [118, 0.3], [120, 0.8], [123, 0.82], [125, 0.3], [130, 0.25], [136, 0.3], [142, 0.35], [148, 0.3], [152, 0.4], [156, 0.6], [160, 0.8], [164, 0.9], [168, 1.1], [171, 1.2], [175, 1.48], [178, 1.3], [181, 1.0], [185, 1.2], [188, 0.9], [192, 1.1], [196, 1.0], [200, 0.85]],
  [[0, 0.005], [40, 0.02], [80, 0.04], [105, 0.06], [108, 0.15], [110, 0.3], [112, 0.1], [118, 0.2], [121, 0.5], [123, 0.82], [126, 0.8], [128, 0.25], [134, 0.2], [140, 0.3], [146, 0.45], [150, 0.3], [155, 0.5], [160, 0.4], [165, 0.6], [170, 0.45], [175, 0.7], [180, 1.1], [183, 0.9], [187, 0.6], [191, 0.8], [195, 0.5], [200, 0.45]],
  [[0, 0.01], [30, 0.015], [50, 0.03], [75, 0.04], [92, 0.07], [95, 0.3], [97, 0.75], [99, 0.77], [101, 0.3], [104, 0.2], [108, 0.25], [112, 0.3], [116, 0.22], [121, 0.25], [128, 0.2], [135, 0.25], [141, 0.3], [144, 1.0], [145.8, 1.55], [148, 1.3], [150, 0.7], [154, 0.9], [157, 1.3], [160, 1.7], [163, 1.75], [166, 1.6], [168, 1.85], [171, 1.2], [174, 1.5], [177, 1.1], [180, 1.6], [181.3, 2.03], [183, 1.8], [185, 2.0], [187, 1.4], [190, 1.2], [193, 1.5], [196, 1.7], [198.5, 1.7], [200, 1.0]],
  [[0, 0.01], [40, 0.02], [70, 0.03], [100, 0.06], [112, 0.1], [115, 0.5], [117, 0.83], [120, 0.8], [122, 0.3], [127, 0.25], [133, 0.35], [140, 0.3], [147, 0.4], [152, 0.5], [157, 0.6], [162, 0.5], [167, 0.7], [172, 0.6], [177, 0.9], [181, 0.7], [186, 1.1], [190, 0.8], [192, 1.0], [194.2, 1.85], [196, 0.9], [200, 0.8]],
  [[0, 0.01], [40, 0.02], [80, 0.04], [100, 0.06], [104, 0.3], [106, 0.77], [108, 0.75], [110, 0.25], [113, 0.3], [118, 0.2], [126, 0.25], [129, 0.8], [132, 0.78], [134, 0.25], [140, 0.2], [146, 0.3], [152, 0.35], [157, 0.4], [162, 0.3], [167, 0.45], [172, 0.35], [177, 0.5], [182, 0.4], [188, 0.55], [194, 0.35], [200, 0.3]],
  [[0, 0.01], [30, 0.02], [60, 0.04], [90, 0.05], [108, 0.1], [112, 0.3], [114, 0.8], [117, 0.82], [119, 0.3], [124, 0.25], [130, 0.3], [137, 0.28], [144, 0.35], [150, 0.5], [154, 1.0], [156, 2.07], [158, 2.0], [160, 2.07], [162, 1.2], [164, 2.2], [166, 2.3], [168, 2.35], [172.7, 2.75], [175, 1.8], [177, 1.3], [179, 1.6], [182, 1.1], [185, 1.5], [188, 1.0], [191, 0.8], [194, 1.2], [197, 0.7], [200, 0.9]],
  [[0, 0.01], [40, 0.02], [80, 0.04], [110, 0.05], [135, 0.07], [137, 0.5], [139, 0.8], [142, 0.8], [144, 0.3], [148, 0.2], [153, 0.3], [158, 0.5], [162, 0.8], [165, 0.6], [170, 0.9], [173, 0.7], [176, 1.0], [180, 0.8], [184, 1.1], [188, 0.9], [192, 1.2], [196, 1.0], [200, 1.3]],
  [[0, 0.01], [40, 0.02], [80, 0.03], [110, 0.05], [138, 0.08], [140, 0.5], [142, 0.8], [145, 0.78], [147, 0.25], [151, 0.2], [156, 0.3], [161, 0.25], [166, 0.35], [171, 0.3], [176, 0.25], [181, 0.3], [186, 0.25], [191, 0.3], [196, 0.22], [200, 0.25]],
  [[0, 0.01], [40, 0.02], [80, 0.03], [115, 0.05], [127, 0.1], [129, 0.5], [131, 0.82], [134, 0.8], [136, 0.2], [141, 0.25], [146, 0.2], [152, 0.25], [158, 0.2], [164, 0.3], [170, 0.25], [176, 0.35], [182, 0.3], [188, 0.4], [194, 0.3], [200, 0.35]],
  [[0, 0.01], [40, 0.02], [80, 0.035], [110, 0.06], [124, 0.1], [126, 0.5], [128, 0.8], [131, 0.82], [133, 0.25], [138, 0.2], [144, 0.25], [150, 0.3], [156, 0.25], [162, 0.4], [166, 1.7], [168, 1.2], [171, 1.5], [174, 1.0], [178, 2.0], [180, 1.9], [182, 1.5], [185, 1.8], [188, 1.2], [191, 1.6], [194, 1.0], [197, 1.3], [200, 1.1]],
  [[0, 0.005], [40, 0.015], [80, 0.03], [110, 0.04], [118, 0.05], [121, 0.4], [123, 0.83], [126, 0.8], [128, 0.2], [132, 0.15], [138, 0.25], [142, 0.2], [148, 0.3], [153, 0.4], [158, 0.55], [163, 0.45], [168, 0.55], [173, 0.45], [178, 0.5], [183, 0.4], [188, 0.5], [193, 0.35], [197, 0.5], [200, 0.45]],
  [[0, 0.01], [40, 0.015], [90, 0.03], [120, 0.05], [132, 0.08], [134, 0.5], [136, 0.8], [139, 0.8], [141, 0.2], [146, 0.3], [151, 0.25], [156, 0.35], [161, 0.3], [166, 0.4], [171, 0.35], [176, 0.3], [181, 0.45], [186, 0.3], [191, 0.4], [196, 0.3], [200, 0.25]],
  [[0, 0.01], [20, 0.01], [40, 0.02], [55, 0.03], [70, 0.04], [85, 0.06], [89, 0.25], [92, 0.22], [94, 0.35], [96, 0.77], [99, 0.78], [100, 0.3], [103, 0.35], [106, 0.25], [109, 0.3], [113, 0.2], [118, 0.25], [124, 0.2], [130, 0.18], [137, 0.22], [143, 0.2], [150, 0.25], [156, 0.2], [162, 0.25], [168, 0.22], [175, 0.18], [182, 0.2], [190, 0.15], [195, 0.2], [200, 0.15]],
  [[0, 0.01], [40, 0.02], [80, 0.035], [108, 0.05], [111, 0.5], [113, 0.82], [116, 0.8], [118, 0.25], [123, 0.2], [128, 0.25], [134, 0.3], [140, 0.25], [146, 0.3], [152, 0.35], [157, 0.5], [161, 0.45], [165, 0.55], [170, 0.4], [175, 0.5], [180, 0.35], [185, 0.45], [190, 0.35], [195, 0.5], [200, 0.3]],
  [[0, 0.005], [100, 0.005], [130, 0.01], [150, 0.02], [160, 0.04], [170, 0.05], [180, 0.06], [185, 0.07], [190, 0.1], [195, 0.12], [200, 0.15]],
  [[0, 0.01], [40, 0.015], [80, 0.03], [110, 0.05], [140, 0.08], [143, 0.5], [145, 0.8], [146, 0.3], [150, 0.25], [155, 0.3], [160, 0.35], [165, 0.3], [170, 0.4], [176, 0.35], [182, 0.45], [188, 0.4], [194, 0.5], [200, 0.45]],
  [[0, 0.01], [40, 0.02], [80, 0.03], [112, 0.05], [117, 0.1], [119, 0.5], [121, 0.8], [124, 0.78], [126, 0.2], [131, 0.15], [137, 0.2], [144, 0.15], [151, 0.2], [158, 0.18], [165, 0.22], [172, 0.18], [180, 0.2], [188, 0.15], [194, 0.2], [200, 0.18]],
  [[0, 0.005], [60, 0.005], [120, 0.005], [140, 0.005], [150, 0.01], [160, 0.02], [170, 0.05], [180, 0.08], [188, 0.1], [195, 0.12], [200, 0.14]],
  [[0, 0.01], [40, 0.02], [85, 0.04], [100, 0.05], [103, 0.3], [105, 0.76], [107, 0.75], [109, 0.2], [114, 0.25], [120, 0.2], [126, 0.3], [132, 0.25], [138, 0.3], [144, 0.35], [150, 0.3], [156, 0.4], [162, 0.35], [168, 0.45], [174, 0.4], [180, 0.5], [186, 0.4], [192, 0.45], [200, 0.4]],
  [[0, 0.01], [50, 0.02], [90, 0.04], [112, 0.06], [114, 0.5], [116, 0.8], [119, 0.78], [121, 0.25], [126, 0.2], [132, 0.15], [140, 0.2], [148, 0.15], [156, 0.2], [164, 0.15], [172, 0.2], [180, 0.15], [188, 0.2], [194, 0.12], [200, 0.18]],
  [[0, 0.01], [40, 0.02], [85, 0.035], [112, 0.05], [118, 0.08], [120, 0.4], [122, 0.82], [124, 0.8], [126, 0.2], [130, 0.25], [135, 0.2], [140, 0.3], [145, 0.25], [150, 0.45], [154, 0.8], [157, 1.2], [160, 0.7], [163, 0.9], [167, 0.6], [171, 0.8], [175, 0.5], [179, 0.7], [183, 0.45], [187, 0.6], [191, 0.35], [195, 0.55], [200, 0.6]],
  [[0, 0.01], [40, 0.02], [80, 0.03], [115, 0.05], [130, 0.07], [132, 0.5], [134, 0.82], [136, 0.3], [139, 0.2], [144, 0.25], [150, 0.3], [155, 0.35], [160, 0.5], [164, 0.8], [167, 0.6], [171, 0.9], [174, 1.2], [177, 0.8], [181, 1.1], [185, 0.7], [188, 0.95], [192, 0.6], [196, 0.9], [200, 0.7]],
  [[0, 0.01], [40, 0.02], [85, 0.04], [110, 0.06], [114, 0.4], [116, 0.8], [118, 0.3], [122, 0.2], [128, 0.3], [134, 0.25], [140, 0.2], [146, 0.3], [150, 0.4], [155, 0.35], [160, 0.45], [165, 0.4], [170, 0.5], [175, 0.45], [180, 0.6], [185, 0.5], [190, 0.55], [195, 0.45], [200, 0.5]],
  [[0, 0.01], [40, 0.02], [80, 0.03], [110, 0.05], [128, 0.08], [130, 0.5], [132, 0.8], [135, 0.8], [137, 0.3], [141, 0.25], [146, 0.3], [152, 0.25], [158, 0.35], [163, 0.5], [167, 0.8], [170, 1.0], [173, 0.7], [177, 1.2], [180, 0.9], [184, 1.3], [187, 1.0], [191, 1.1], [195, 0.8], [198, 1.4], [200, 1.2]],
  [[0, 0.01], [40, 0.02], [85, 0.035], [112, 0.05], [124, 0.1], [126, 0.5], [128, 0.82], [130, 0.8], [132, 0.2], [137, 0.25], [143, 0.2], [148, 0.3], [153, 0.35], [158, 0.4], [162, 0.3], [166, 0.45], [170, 0.5], [174, 0.4], [178, 0.55], [182, 0.45], [186, 0.6], [190, 0.5], [194, 0.55], [197, 0.45], [200, 0.5]],
  [[0, 0.01], [40, 0.02], [80, 0.035], [110, 0.05], [120, 0.08], [122, 0.4], [124, 0.8], [127, 0.78], [129, 0.2], [133, 0.15], [138, 0.2], [143, 0.25], [148, 0.2], [153, 0.3], [158, 0.25], [163, 0.3], [168, 0.35], [173, 0.3], [178, 0.4], [183, 0.35], [188, 0.45], [193, 0.4], [200, 0.35]],
  [[0, 0.01], [40, 0.02], [80, 0.03], [110, 0.05], [136, 0.07], [138, 0.5], [140, 0.8], [143, 0.8], [145, 0.3], [149, 0.25], [153, 0.3], [158, 0.4], [162, 0.8], [165, 1.2], [168, 1.5], [170, 1.1], [173, 1.3], [176, 0.9], [179, 1.7], [181, 1.4], [184, 1.0], [187, 1.3], [190, 0.9], [194, 1.1], [197, 0.8], [200, 0.95]],
  [[0, 0.01], [40, 0.02], [85, 0.04], [105, 0.06], [108, 0.3], [110, 0.8], [113, 0.78], [115, 0.3], [119, 0.25], [124, 0.3], [130, 0.25], [136, 0.3], [142, 0.35], [148, 0.3], [153, 0.4], [158, 0.5], [162, 0.4], [166, 0.6], [170, 0.5], [174, 0.7], [178, 0.55], [182, 0.8], [186, 0.6], [190, 0.75], [194, 0.55], [198, 0.65], [200, 0.6]],
  [[0, 0.01], [40, 0.015], [90, 0.03], [120, 0.05], [125, 0.08], [127, 0.4], [129, 0.8], [131, 0.2], [135, 0.18], [141, 0.22], [147, 0.2], [153, 0.25], [158, 0.22], [163, 0.3], [168, 0.25], [173, 0.32], [178, 0.28], [183, 0.35], [188, 0.3], [193, 0.38], [200, 0.3]],
  [[0, 0.01], [40, 0.02], [80, 0.03], [115, 0.05], [133, 0.08], [135, 0.5], [137, 0.82], [140, 0.8], [142, 0.25], [146, 0.2], [151, 0.3], [156, 0.45], [160, 0.6], [163, 0.5], [167, 0.75], [171, 0.6], [175, 0.9], [178, 0.7], [182, 0.85], [186, 0.6], [190, 0.8], [194, 0.55], [200, 0.5]],
];

// MATLAB default line colour order
const PALETTE = ["#0072BD", "#D95319", "#EDB120", "#7E2F8E", "#77AC30", "#4DBEEE", "#A2142F"];
const FONT = "'DejaVu Sans', 'Noto Sans', sans-serif";
const INK = "#262626";
const FRAME = "#7f7f7f";
const TICK_FONT = 17.5;

type Box = { left: number; top: number; width: number; height: number; plot: [number, number, number, number] };

function DateTick(props: any) {
  const { x, y, payload, dates } = props;
  const label = dates[DAY_TICKS.indexOf(payload.value)];
  return (
    <text
      x={0}
      y={0}
      dy="0.75em"
      transform={`translate(${x - 1},${y + 7}) rotate(45)`}
      textAnchor="start"
      fontFamily={FONT}
      fontSize={TICK_FONT}
      fill={INK}
    >
      {label}
    </text>
  );
}

interface PanelProps {
  box: Box;
  title: string;
  dates: string[];
  yTicks: number[];
  lines: Pt[][];
  yLabel?: React.ReactNode;
  labelX?: number;
}

function Panel({ box, title, dates, yTicks, lines, yLabel, labelX = 0 }: PanelProps) {
  const [px0, py0, px1, py1] = box.plot;
  const yMax = yTicks[yTicks.length - 1];
  // axes are 1px thick so that the frame lands exactly on the plot box
  const margin = {
    left: px0 - box.left - 1,
    top: py0 - box.top - 1,
    right: box.left + box.width - px1 - 1,
    bottom: box.top + box.height - py1 - 1,
  };
  const xCommon = {
    type: "number" as const,
    dataKey: "x",
    domain: [0, 200],
    ticks: DAY_TICKS,
    interval: 0,
    allowDataOverflow: true,
    height: 1,
    tickSize: -4,
    stroke: FRAME,
  };
  const yCommon = {
    type: "number" as const,
    domain: [0, yMax],
    ticks: yTicks,
    interval: 0,
    allowDataOverflow: true,
    width: 1,
    tickSize: -4,
    stroke: FRAME,
  };
  return (
    <div style={{ position: "absolute", left: box.left, top: box.top, width: box.width, height: box.height }}>
      <LineChart width={box.width} height={box.height} margin={margin}>
        <XAxis xAxisId="b" {...xCommon} tickMargin={4} tick={(p: any) => <DateTick {...p} dates={dates} />} />
        <XAxis xAxisId="t" orientation="top" {...xCommon} tick={false} />
        <YAxis
          yAxisId="l"
          {...yCommon}
          tickMargin={12}
          tick={{ fill: INK, fontSize: TICK_FONT, fontFamily: FONT }}
        />
        <YAxis yAxisId="r" orientation="right" {...yCommon} tick={false} />
        {lines.map((pts, i) => (
          <Line
            key={i}
            xAxisId="b"
            yAxisId="l"
            type="linear"
            data={pts.map(([x, y]) => ({ x, y }))}
            dataKey="y"
            stroke={PALETTE[i % PALETTE.length]}
            strokeWidth={1}
            dot={false}
            activeDot={false}
            isAnimationActive={false}
          />
        ))}
      </LineChart>
      <svg
        width={box.width}
        height={box.height}
        style={{ position: "absolute", left: 0, top: 0, pointerEvents: "none", overflow: "visible" }}
      >
        <text
          x={(px0 + px1) / 2 - box.left}
          y={py0 - box.top - 7.5}
          textAnchor="middle"
          fontFamily={FONT}
          fontWeight="bold"
          fontSize={19}
          fill="#000"
        >
          {title}
        </text>
        {yLabel && (
          <text
            transform={`translate(${labelX - box.left},${(py0 + py1) / 2 - box.top}) rotate(-90)`}
            textAnchor="middle"
            fontFamily={FONT}
            fontSize={19}
            fill={INK}
          >
            {yLabel}
          </text>
        )}
      </svg>
    </div>
  );
}

const nitrateLabel = (
  <>
    NO<tspan dy={5} fontSize={14}>3</tspan>
    <tspan dy={-5}> (mean 0-35 m) [</tspan>
    <tspan fontStyle="italic">μ</tspan>M]
  </>
);

const biomassLabel = (
  <>
    Phytoplankton Biomass [g C m<tspan dy={-8} fontSize={14}>-1</tspan>
    <tspan dy={8}>]</tspan>
  </>
);

const growthLabel = (
  <>
    P Growth Rate <tspan fontStyle="italic">μ</tspan> [day<tspan dy={-8} fontSize={14}>-1</tspan>
    <tspan dy={8}>]</tspan>
  </>
);

export default function App() {
  return (
    <div style={{ position: "absolute", left: 0, top: 0, width: 899, height: 1304, background: "#fff", overflow: "hidden" }}>
      <Panel
        box={{ left: 0, top: 0, width: 450, height: 440, plot: [77, 33, 387, 348] }}
        title="2009 Model Nitrate"
        dates={DATES_2009}
        yTicks={NITRATE_TICKS_2009}
        lines={NITRATE_2009}
        yLabel={nitrateLabel}
        labelX={30.5}
      />
      <Panel
        box={{ left: 450, top: 0, width: 449, height: 440, plot: [534, 33, 844, 348] }}
        title="2015 Model Nitrate"
        dates={DATES_2015}
        yTicks={NITRATE_TICKS_2015}
        lines={NITRATE_2015}
      />
      <Panel
        box={{ left: 0, top: 440, width: 450, height: 430, plot: [77, 472, 387, 787] }}
        title="2009 Model Phyto Biomass"
        dates={DATES_2009}
        yTicks={BIOMASS_TICKS}
        lines={BIOMASS_2009}
        yLabel={biomassLabel}
        labelX={37.5}
      />
      <Panel
        box={{ left: 450, top: 440, width: 449, height: 430, plot: [534, 472, 844, 787] }}
        title="2015 Model Phyto Biomass"
        dates={DATES_2015}
        yTicks={BIOMASS_TICKS}
        lines={BIOMASS_2015}
      />
      <Panel
        box={{ left: 0, top: 870, width: 450, height: 434, plot: [77, 911, 387, 1227] }}
        title="2009 Model Phyto Growth"
        dates={DATES_2009}
        yTicks={GROWTH_TICKS_2009}
        lines={GROWTH_2009}
        yLabel={growthLabel}
        labelX={32}
      />
      <Panel
        box={{ left: 450, top: 870, width: 449, height: 434, plot: [534, 911, 844, 1227] }}
        title="2015 Model Phyto Growth"
        dates={DATES_2015}
        yTicks={GROWTH_TICKS_2015}
        lines={GROWTH_2015}
      />
    </div>
  );
}
